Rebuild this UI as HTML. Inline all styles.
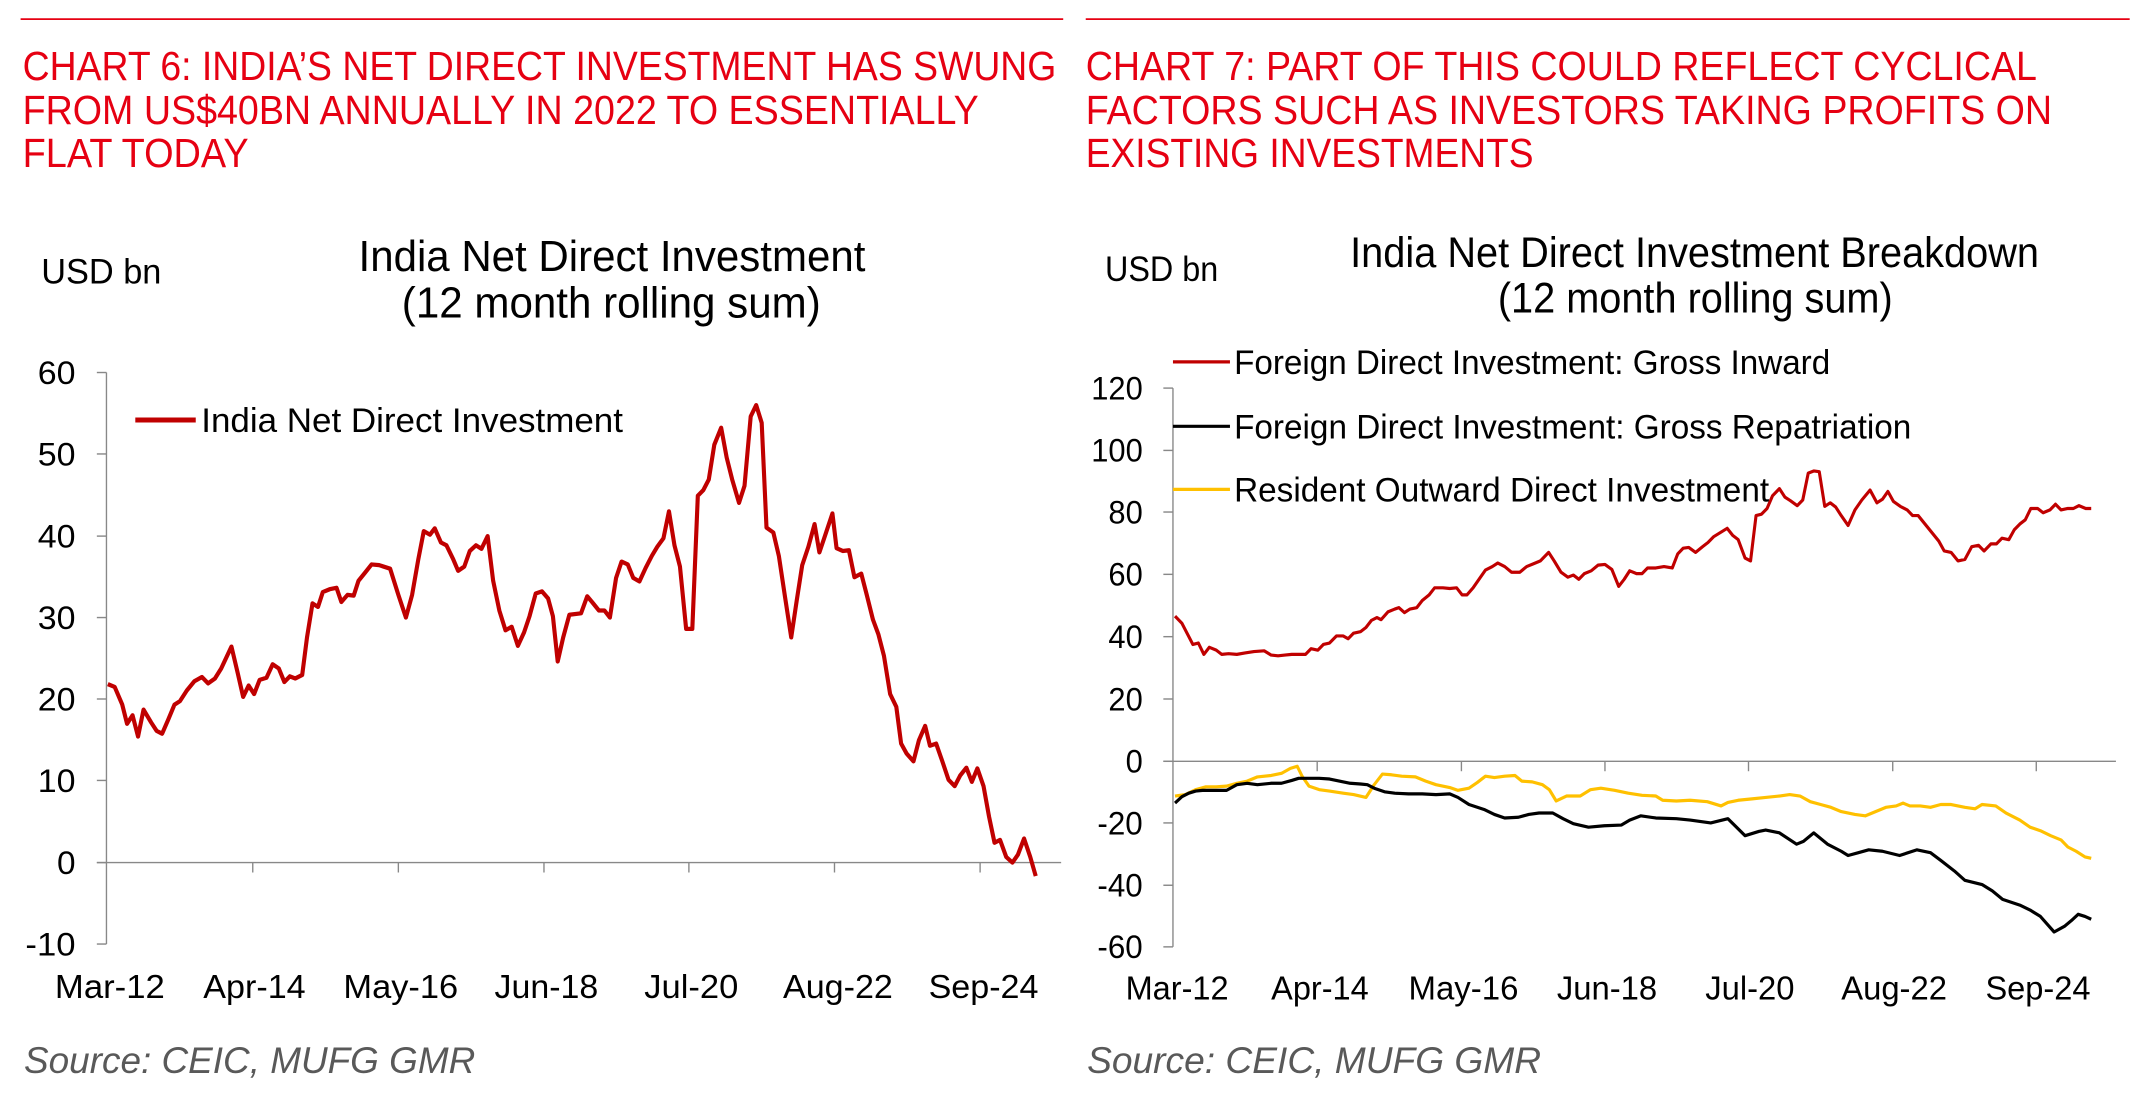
<!DOCTYPE html>
<html><head><meta charset="utf-8"><style>
html,body{margin:0;padding:0;background:#fff;}
body{width:2143px;height:1106px;position:relative;overflow:hidden;}
svg{position:absolute;top:0;}
text{font-family:"Liberation Sans",Arial,sans-serif;}
</style></head><body>
<svg style="left:0" width="1072" height="1106" viewBox="0 0 1560.8 1561.7" preserveAspectRatio="none">
<line x1="30" y1="27" x2="1548" y2="27" stroke="#E60012" stroke-width="2.5"/>
<g fill="#E60012" font-size="58">
<text x="33" y="113" textLength="1505" lengthAdjust="spacingAndGlyphs">CHART 6: INDIA’S NET DIRECT INVESTMENT HAS SWUNG</text>
<text x="33" y="175" textLength="1392" lengthAdjust="spacingAndGlyphs">FROM US$40BN ANNUALLY IN 2022 TO ESSENTIALLY</text>
<text x="33" y="236" textLength="329" lengthAdjust="spacingAndGlyphs">FLAT TODAY</text>
</g>
<g fill="#000" font-size="61">
<text x="522" y="383" textLength="738" lengthAdjust="spacingAndGlyphs">India Net Direct Investment</text>
<text x="585" y="448" textLength="610" lengthAdjust="spacingAndGlyphs">(12 month rolling sum)</text>
</g>
<text x="60" y="400" font-size="50" textLength="175" lengthAdjust="spacingAndGlyphs">USD bn</text>
<g font-size="46" text-anchor="end" fill="#000">
<text x="110" y="542" textLength="55" lengthAdjust="spacingAndGlyphs">60</text><text x="110" y="657" textLength="55" lengthAdjust="spacingAndGlyphs">50</text><text x="110" y="773" textLength="55" lengthAdjust="spacingAndGlyphs">40</text><text x="110" y="888" textLength="55" lengthAdjust="spacingAndGlyphs">30</text><text x="110" y="1003" textLength="55" lengthAdjust="spacingAndGlyphs">20</text><text x="110" y="1118" textLength="55" lengthAdjust="spacingAndGlyphs">10</text><text x="110" y="1234" textLength="27" lengthAdjust="spacingAndGlyphs">0</text><text x="110" y="1349" textLength="73" lengthAdjust="spacingAndGlyphs">-10</text>
</g>
<g stroke="#888" stroke-width="2">
<line x1="155" y1="526" x2="155" y2="1333"/>
<line x1="141" y1="526" x2="155" y2="526"/><line x1="141" y1="641" x2="155" y2="641"/><line x1="141" y1="757" x2="155" y2="757"/><line x1="141" y1="872" x2="155" y2="872"/><line x1="141" y1="987" x2="155" y2="987"/><line x1="141" y1="1102" x2="155" y2="1102"/><line x1="141" y1="1218" x2="155" y2="1218"/><line x1="141" y1="1333" x2="155" y2="1333"/>
<line x1="141" y1="1218" x2="1545" y2="1218"/>
<line x1="368" y1="1218" x2="368" y2="1232"/><line x1="580" y1="1218" x2="580" y2="1232"/><line x1="792" y1="1218" x2="792" y2="1232"/><line x1="1003" y1="1218" x2="1003" y2="1232"/><line x1="1215" y1="1218" x2="1215" y2="1232"/><line x1="1427" y1="1218" x2="1427" y2="1232"/>
</g>
<g font-size="47" fill="#000">
<text x="80" y="1409" textLength="160" lengthAdjust="spacingAndGlyphs">Mar-12</text><text x="296" y="1409" textLength="149" lengthAdjust="spacingAndGlyphs">Apr-14</text><text x="500" y="1409" textLength="167" lengthAdjust="spacingAndGlyphs">May-16</text><text x="720" y="1409" textLength="151" lengthAdjust="spacingAndGlyphs">Jun-18</text><text x="938" y="1409" textLength="137" lengthAdjust="spacingAndGlyphs">Jul-20</text><text x="1140" y="1409" textLength="160" lengthAdjust="spacingAndGlyphs">Aug-22</text><text x="1352" y="1409" textLength="160" lengthAdjust="spacingAndGlyphs">Sep-24</text>
</g>
<line x1="197" y1="593" x2="285" y2="593" stroke="#C00000" stroke-width="7"/>
<text x="293" y="610" font-size="48" textLength="614" lengthAdjust="spacingAndGlyphs">India Net Direct Investment</text>
<polyline fill="none" stroke="#C00000" stroke-width="6" stroke-linejoin="round" points="157,966 167,970 178,995 185,1022 193,1010 201,1040 209,1002 220,1020 228,1032 236,1036 245,1016 254,995 262,990 272,975 283,962 294,956 303,965 313,958 322,944 337,913 346,950 354,984 362,968 370,980 378,960 388,957 397,938 406,944 414,963 422,955 430,958 440,953 447,900 455,852 463,857 470,836 480,832 490,830 497,850 506,840 515,841 522,820 532,808 541,797 552,798 568,803 580,840 591,872 600,840 609,790 617,750 626,755 633,746 642,766 650,770 660,790 667,806 676,800 684,778 693,770 701,775 710,757 718,820 727,862 736,890 745,885 754,912 763,893 771,870 780,838 789,835 798,845 805,870 812,934 820,900 829,868 846,866 855,842 862,850 872,862 880,862 888,872 897,816 905,793 914,797 922,816 931,821 940,802 949,785 957,772 966,760 974,722 982,770 990,800 999,888 1008,888 1016,700 1024,692 1032,677 1040,628 1050,604 1058,646 1066,677 1076,710 1084,686 1093,588 1101,572 1109,597 1116,745 1126,752 1134,785 1143,843 1152,900 1160,848 1168,798 1177,772 1186,740 1193,780 1200,760 1212,725 1218,774 1227,778 1236,777 1244,815 1254,810 1262,840 1271,875 1279,896 1287,926 1296,980 1305,998 1312,1050 1320,1064 1330,1075 1338,1045 1347,1025 1354,1053 1363,1050 1372,1075 1381,1101 1390,1110 1398,1095 1407,1084 1415,1104 1423,1085 1432,1110 1440,1153 1448,1190 1456,1186 1465,1210 1474,1218 1482,1207 1491,1184 1500,1210 1508,1237"/>
<text x="35" y="1515" font-size="52" font-style="italic" fill="#595959" textLength="657" lengthAdjust="spacingAndGlyphs">Source: CEIC, MUFG GMR</text>
</svg>

<svg style="left:1072px" width="1071" height="1106" viewBox="0 0 1559.4 1561.7" preserveAspectRatio="none">
<line x1="20" y1="27" x2="1540" y2="27" stroke="#E60012" stroke-width="2.5"/>
<g fill="#E60012" font-size="58">
<text x="20" y="113" textLength="1385" lengthAdjust="spacingAndGlyphs">CHART 7: PART OF THIS COULD REFLECT CYCLICAL</text>
<text x="20" y="175" textLength="1407" lengthAdjust="spacingAndGlyphs">FACTORS SUCH AS INVESTORS TAKING PROFITS ON</text>
<text x="20" y="236" textLength="652" lengthAdjust="spacingAndGlyphs">EXISTING INVESTMENTS</text>
</g>
<g fill="#000" font-size="60">
<text x="405" y="377" textLength="1003" lengthAdjust="spacingAndGlyphs">India Net Direct Investment Breakdown</text>
<text x="620" y="441" textLength="575" lengthAdjust="spacingAndGlyphs">(12 month rolling sum)</text>
</g>
<text x="48" y="397" font-size="50" textLength="165" lengthAdjust="spacingAndGlyphs">USD bn</text>
<g font-size="46" text-anchor="end" fill="#000">
<text x="103" y="564" textLength="75" lengthAdjust="spacingAndGlyphs">120</text><text x="103" y="652" textLength="75" lengthAdjust="spacingAndGlyphs">100</text><text x="103" y="739" textLength="50" lengthAdjust="spacingAndGlyphs">80</text><text x="103" y="827" textLength="50" lengthAdjust="spacingAndGlyphs">60</text><text x="103" y="915" textLength="50" lengthAdjust="spacingAndGlyphs">40</text><text x="103" y="1003" textLength="50" lengthAdjust="spacingAndGlyphs">20</text><text x="103" y="1091" textLength="25" lengthAdjust="spacingAndGlyphs">0</text><text x="103" y="1178" textLength="66" lengthAdjust="spacingAndGlyphs">-20</text><text x="103" y="1266" textLength="66" lengthAdjust="spacingAndGlyphs">-40</text><text x="103" y="1353" textLength="66" lengthAdjust="spacingAndGlyphs">-60</text>
</g>
<g stroke="#888" stroke-width="2">
<line x1="147" y1="548" x2="147" y2="1337"/>
<line x1="133" y1="548" x2="147" y2="548"/><line x1="133" y1="636" x2="147" y2="636"/><line x1="133" y1="723" x2="147" y2="723"/><line x1="133" y1="811" x2="147" y2="811"/><line x1="133" y1="899" x2="147" y2="899"/><line x1="133" y1="987" x2="147" y2="987"/><line x1="133" y1="1075" x2="147" y2="1075"/><line x1="133" y1="1162" x2="147" y2="1162"/><line x1="133" y1="1250" x2="147" y2="1250"/><line x1="133" y1="1337" x2="147" y2="1337"/>
<line x1="133" y1="1075" x2="1520" y2="1075"/>
<line x1="357" y1="1075" x2="357" y2="1089"/><line x1="567" y1="1075" x2="567" y2="1089"/><line x1="776" y1="1075" x2="776" y2="1089"/><line x1="985" y1="1075" x2="985" y2="1089"/><line x1="1195" y1="1075" x2="1195" y2="1089"/><line x1="1404" y1="1075" x2="1404" y2="1089"/>
</g>
<g font-size="47" fill="#000">
<text x="78" y="1411" textLength="150" lengthAdjust="spacingAndGlyphs">Mar-12</text><text x="290" y="1411" textLength="142" lengthAdjust="spacingAndGlyphs">Apr-14</text><text x="490" y="1411" textLength="160" lengthAdjust="spacingAndGlyphs">May-16</text><text x="706" y="1411" textLength="146" lengthAdjust="spacingAndGlyphs">Jun-18</text><text x="922" y="1411" textLength="130" lengthAdjust="spacingAndGlyphs">Jul-20</text><text x="1120" y="1411" textLength="154" lengthAdjust="spacingAndGlyphs">Aug-22</text><text x="1330" y="1411" textLength="153" lengthAdjust="spacingAndGlyphs">Sep-24</text>
</g>
<polyline fill="none" stroke="#FFC000" stroke-width="4.5" stroke-linejoin="round" points="150,1124 165,1122 180,1115 195,1111 210,1111 225,1110 240,1106 255,1103 270,1097 290,1095 305,1092 318,1085 328,1082 335,1096 345,1110 360,1115 375,1117 395,1120 410,1122 428,1126 440,1108 452,1093 465,1094 480,1096 500,1097 515,1103 530,1108 550,1112 562,1116 578,1113 590,1105 602,1096 615,1098 630,1096 645,1095 655,1103 670,1104 685,1108 695,1115 705,1131 720,1124 740,1124 755,1115 770,1113 790,1116 810,1120 830,1123 850,1124 860,1130 880,1131 900,1130 925,1132 945,1138 955,1133 970,1130 990,1128 1010,1126 1030,1124 1045,1122 1060,1124 1075,1132 1090,1136 1105,1140 1120,1146 1140,1150 1155,1152 1170,1146 1185,1140 1200,1138 1210,1134 1220,1138 1235,1138 1250,1140 1265,1136 1280,1136 1300,1140 1315,1142 1325,1136 1345,1138 1360,1148 1380,1158 1395,1168 1410,1173 1425,1180 1440,1186 1450,1196 1462,1202 1475,1210 1484,1212"/>
<polyline fill="none" stroke="#000" stroke-width="4.5" stroke-linejoin="round" points="150,1134 160,1125 170,1120 180,1117 190,1116 200,1116 210,1116 225,1116 240,1108 255,1106 270,1108 290,1106 305,1106 320,1102 330,1099 345,1099 360,1099 375,1100 390,1103 405,1106 420,1107 430,1108 440,1113 455,1118 470,1120 490,1121 510,1121 530,1122 550,1121 562,1126 578,1136 600,1143 615,1150 630,1155 650,1154 665,1150 680,1148 700,1148 715,1156 730,1163 752,1168 775,1166 800,1165 812,1158 828,1152 850,1155 880,1156 900,1158 930,1162 955,1156 980,1180 1000,1174 1010,1172 1030,1176 1055,1192 1065,1188 1080,1176 1100,1192 1120,1202 1130,1208 1145,1204 1160,1200 1180,1202 1205,1208 1230,1200 1250,1204 1265,1215 1285,1230 1300,1243 1325,1249 1340,1258 1355,1270 1380,1278 1395,1285 1410,1294 1430,1316 1445,1308 1455,1300 1465,1291 1475,1294 1484,1298"/>
<polyline fill="none" stroke="#C00000" stroke-width="4.5" stroke-linejoin="round" points="150,870 160,880 168,895 176,910 184,908 192,924 200,914 210,918 218,924 228,923 240,924 252,922 265,920 280,919 290,925 300,926 310,925 320,924 340,924 348,916 358,918 366,910 375,908 385,898 395,898 402,902 410,894 420,892 428,886 436,876 444,872 450,875 460,864 470,860 476,858 484,865 492,860 502,858 510,848 520,840 528,830 540,830 550,831 560,830 568,840 575,840 584,830 594,816 602,805 612,800 620,795 630,800 640,808 652,808 662,800 672,796 682,792 694,780 702,792 712,808 722,815 730,812 738,818 746,810 756,806 766,798 776,797 786,804 796,828 804,818 812,806 822,810 830,810 838,802 850,802 862,800 874,802 882,782 890,774 898,773 908,780 918,772 926,766 934,758 944,752 954,746 962,756 970,762 980,788 988,792 996,728 1004,726 1012,718 1020,700 1030,690 1038,702 1046,707 1056,714 1064,706 1072,668 1080,665 1088,666 1096,715 1104,710 1112,716 1120,728 1130,742 1140,720 1150,706 1162,692 1172,710 1180,705 1188,694 1196,708 1206,715 1216,720 1224,728 1232,728 1242,740 1252,752 1262,764 1270,778 1280,780 1290,792 1300,790 1310,772 1320,770 1328,778 1338,768 1346,768 1354,760 1364,762 1372,748 1380,740 1388,734 1396,718 1406,718 1414,724 1424,720 1432,712 1440,720 1450,718 1458,718 1466,714 1476,718 1484,718"/>
<line x1="147" y1="511" x2="230" y2="511" stroke="#C00000" stroke-width="4.5"/>
<line x1="147" y1="602" x2="230" y2="602" stroke="#000" stroke-width="4.5"/>
<line x1="147" y1="691" x2="230" y2="691" stroke="#FFC000" stroke-width="4.5"/>
<g font-size="48" fill="#000">
<text x="236" y="528" textLength="868" lengthAdjust="spacingAndGlyphs">Foreign Direct Investment: Gross Inward</text>
<text x="236" y="619" textLength="986" lengthAdjust="spacingAndGlyphs">Foreign Direct Investment: Gross Repatriation</text>
<text x="236" y="708" textLength="779" lengthAdjust="spacingAndGlyphs">Resident Outward Direct Investment</text>
</g>
<text x="22" y="1515" font-size="52" font-style="italic" fill="#595959" textLength="661" lengthAdjust="spacingAndGlyphs">Source: CEIC, MUFG GMR</text>
</svg>
</body></html>
